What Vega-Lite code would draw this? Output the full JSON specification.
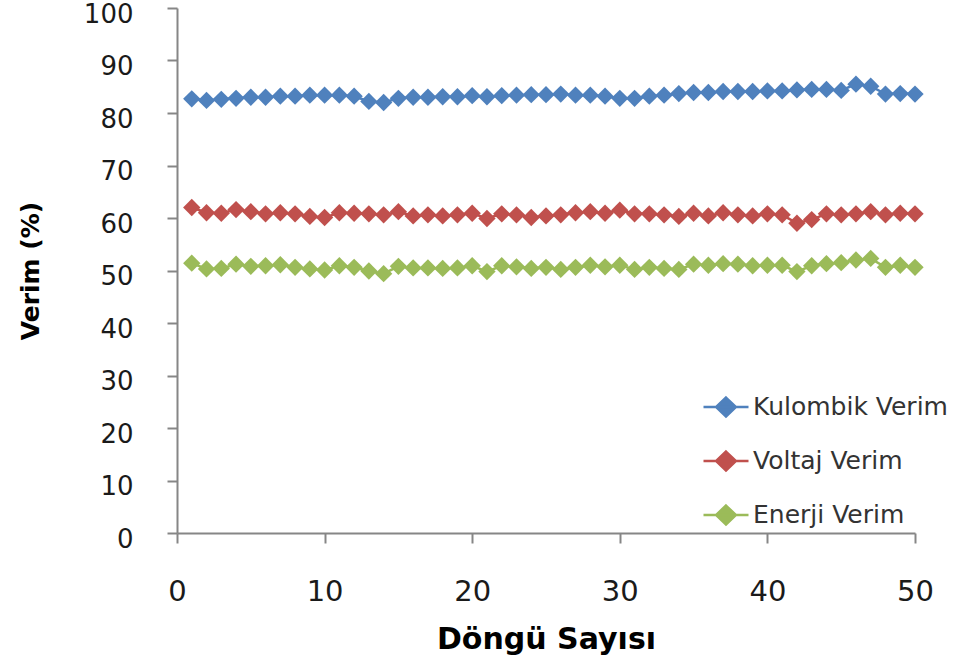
{
  "$schema": "https://vega.github.io/schema/vega-lite/v6.json",
  "width": 738,
  "height": 525,
  "autosize": "none",
  "padding": {"left": 177, "top": 8, "right": 56, "bottom": 132},
  "background": "white",
  "config": {"view": {"stroke": null}},
  "data": {"values": [
    {"c":1,"s":"Kulombik Verim","v":82.7},{"c":2,"s":"Kulombik Verim","v":82.4},{"c":3,"s":"Kulombik Verim","v":82.6},{"c":4,"s":"Kulombik Verim","v":82.8},{"c":5,"s":"Kulombik Verim","v":83.0},{"c":6,"s":"Kulombik Verim","v":83.0},{"c":7,"s":"Kulombik Verim","v":83.2},{"c":8,"s":"Kulombik Verim","v":83.2},{"c":9,"s":"Kulombik Verim","v":83.4},{"c":10,"s":"Kulombik Verim","v":83.4},
    {"c":11,"s":"Kulombik Verim","v":83.4},{"c":12,"s":"Kulombik Verim","v":83.2},{"c":13,"s":"Kulombik Verim","v":82.2},{"c":14,"s":"Kulombik Verim","v":82.0},{"c":15,"s":"Kulombik Verim","v":82.8},{"c":16,"s":"Kulombik Verim","v":83.0},{"c":17,"s":"Kulombik Verim","v":83.0},{"c":18,"s":"Kulombik Verim","v":83.1},{"c":19,"s":"Kulombik Verim","v":83.1},{"c":20,"s":"Kulombik Verim","v":83.3},
    {"c":21,"s":"Kulombik Verim","v":83.1},{"c":22,"s":"Kulombik Verim","v":83.3},{"c":23,"s":"Kulombik Verim","v":83.4},{"c":24,"s":"Kulombik Verim","v":83.5},{"c":25,"s":"Kulombik Verim","v":83.5},{"c":26,"s":"Kulombik Verim","v":83.6},{"c":27,"s":"Kulombik Verim","v":83.4},{"c":28,"s":"Kulombik Verim","v":83.4},{"c":29,"s":"Kulombik Verim","v":83.2},{"c":30,"s":"Kulombik Verim","v":82.8},
    {"c":31,"s":"Kulombik Verim","v":82.8},{"c":32,"s":"Kulombik Verim","v":83.2},{"c":33,"s":"Kulombik Verim","v":83.4},{"c":34,"s":"Kulombik Verim","v":83.7},{"c":35,"s":"Kulombik Verim","v":83.9},{"c":36,"s":"Kulombik Verim","v":83.9},{"c":37,"s":"Kulombik Verim","v":84.1},{"c":38,"s":"Kulombik Verim","v":84.1},{"c":39,"s":"Kulombik Verim","v":84.1},{"c":40,"s":"Kulombik Verim","v":84.2},
    {"c":41,"s":"Kulombik Verim","v":84.2},{"c":42,"s":"Kulombik Verim","v":84.4},{"c":43,"s":"Kulombik Verim","v":84.5},{"c":44,"s":"Kulombik Verim","v":84.5},{"c":45,"s":"Kulombik Verim","v":84.3},{"c":46,"s":"Kulombik Verim","v":85.5},{"c":47,"s":"Kulombik Verim","v":85.1},{"c":48,"s":"Kulombik Verim","v":83.6},{"c":49,"s":"Kulombik Verim","v":83.7},{"c":50,"s":"Kulombik Verim","v":83.6},
    {"c":1,"s":"Voltaj Verim","v":62.0},{"c":2,"s":"Voltaj Verim","v":61.0},{"c":3,"s":"Voltaj Verim","v":60.9},{"c":4,"s":"Voltaj Verim","v":61.6},{"c":5,"s":"Voltaj Verim","v":61.2},{"c":6,"s":"Voltaj Verim","v":60.8},{"c":7,"s":"Voltaj Verim","v":61.0},{"c":8,"s":"Voltaj Verim","v":60.8},{"c":9,"s":"Voltaj Verim","v":60.3},{"c":10,"s":"Voltaj Verim","v":60.1},
    {"c":11,"s":"Voltaj Verim","v":61.0},{"c":12,"s":"Voltaj Verim","v":60.9},{"c":13,"s":"Voltaj Verim","v":60.8},{"c":14,"s":"Voltaj Verim","v":60.6},{"c":15,"s":"Voltaj Verim","v":61.2},{"c":16,"s":"Voltaj Verim","v":60.4},{"c":17,"s":"Voltaj Verim","v":60.6},{"c":18,"s":"Voltaj Verim","v":60.4},{"c":19,"s":"Voltaj Verim","v":60.6},{"c":20,"s":"Voltaj Verim","v":60.9},
    {"c":21,"s":"Voltaj Verim","v":59.9},{"c":22,"s":"Voltaj Verim","v":60.8},{"c":23,"s":"Voltaj Verim","v":60.6},{"c":24,"s":"Voltaj Verim","v":60.1},{"c":25,"s":"Voltaj Verim","v":60.4},{"c":26,"s":"Voltaj Verim","v":60.6},{"c":27,"s":"Voltaj Verim","v":61.0},{"c":28,"s":"Voltaj Verim","v":61.2},{"c":29,"s":"Voltaj Verim","v":60.9},{"c":30,"s":"Voltaj Verim","v":61.5},
    {"c":31,"s":"Voltaj Verim","v":60.8},{"c":32,"s":"Voltaj Verim","v":60.8},{"c":33,"s":"Voltaj Verim","v":60.6},{"c":34,"s":"Voltaj Verim","v":60.3},{"c":35,"s":"Voltaj Verim","v":60.9},{"c":36,"s":"Voltaj Verim","v":60.4},{"c":37,"s":"Voltaj Verim","v":61.0},{"c":38,"s":"Voltaj Verim","v":60.6},{"c":39,"s":"Voltaj Verim","v":60.4},{"c":40,"s":"Voltaj Verim","v":60.8},
    {"c":41,"s":"Voltaj Verim","v":60.6},{"c":42,"s":"Voltaj Verim","v":59.0},{"c":43,"s":"Voltaj Verim","v":59.7},{"c":44,"s":"Voltaj Verim","v":60.8},{"c":45,"s":"Voltaj Verim","v":60.6},{"c":46,"s":"Voltaj Verim","v":60.8},{"c":47,"s":"Voltaj Verim","v":61.2},{"c":48,"s":"Voltaj Verim","v":60.6},{"c":49,"s":"Voltaj Verim","v":60.9},{"c":50,"s":"Voltaj Verim","v":60.8},
    {"c":1,"s":"Enerji Verim","v":51.4},{"c":2,"s":"Enerji Verim","v":50.3},{"c":3,"s":"Enerji Verim","v":50.4},{"c":4,"s":"Enerji Verim","v":51.2},{"c":5,"s":"Enerji Verim","v":50.8},{"c":6,"s":"Enerji Verim","v":50.9},{"c":7,"s":"Enerji Verim","v":51.1},{"c":8,"s":"Enerji Verim","v":50.6},{"c":9,"s":"Enerji Verim","v":50.3},{"c":10,"s":"Enerji Verim","v":50.1},
    {"c":11,"s":"Enerji Verim","v":50.9},{"c":12,"s":"Enerji Verim","v":50.6},{"c":13,"s":"Enerji Verim","v":49.9},{"c":14,"s":"Enerji Verim","v":49.4},{"c":15,"s":"Enerji Verim","v":50.8},{"c":16,"s":"Enerji Verim","v":50.5},{"c":17,"s":"Enerji Verim","v":50.5},{"c":18,"s":"Enerji Verim","v":50.4},{"c":19,"s":"Enerji Verim","v":50.5},{"c":20,"s":"Enerji Verim","v":50.9},
    {"c":21,"s":"Enerji Verim","v":49.8},{"c":22,"s":"Enerji Verim","v":50.9},{"c":23,"s":"Enerji Verim","v":50.7},{"c":24,"s":"Enerji Verim","v":50.4},{"c":25,"s":"Enerji Verim","v":50.6},{"c":26,"s":"Enerji Verim","v":50.2},{"c":27,"s":"Enerji Verim","v":50.6},{"c":28,"s":"Enerji Verim","v":51.0},{"c":29,"s":"Enerji Verim","v":50.7},{"c":30,"s":"Enerji Verim","v":51.0},
    {"c":31,"s":"Enerji Verim","v":50.2},{"c":32,"s":"Enerji Verim","v":50.6},{"c":33,"s":"Enerji Verim","v":50.4},{"c":34,"s":"Enerji Verim","v":50.2},{"c":35,"s":"Enerji Verim","v":51.2},{"c":36,"s":"Enerji Verim","v":51.0},{"c":37,"s":"Enerji Verim","v":51.3},{"c":38,"s":"Enerji Verim","v":51.2},{"c":39,"s":"Enerji Verim","v":50.9},{"c":40,"s":"Enerji Verim","v":51.0},
    {"c":41,"s":"Enerji Verim","v":51.0},{"c":42,"s":"Enerji Verim","v":49.8},{"c":43,"s":"Enerji Verim","v":50.9},{"c":44,"s":"Enerji Verim","v":51.3},{"c":45,"s":"Enerji Verim","v":51.5},{"c":46,"s":"Enerji Verim","v":52.0},{"c":47,"s":"Enerji Verim","v":52.3},{"c":48,"s":"Enerji Verim","v":50.6},{"c":49,"s":"Enerji Verim","v":51.0},{"c":50,"s":"Enerji Verim","v":50.6}
  ]},
  "encoding": {
    "x": {
      "field": "c", "type": "quantitative",
      "scale": {"domain": [0, 50], "nice": false, "zero": false},
      "axis": {
        "title": "Döngü Sayısı", "values": [0, 10, 20, 30, 40, 50], "grid": false,
        "domainColor": "#868686", "domainWidth": 2, "tickColor": "#868686", "tickWidth": 2, "tickSize": 10,
        "labelFont": "DejaVu Sans", "labelFontSize": 29, "labelColor": "#1a1a1a", "labelPadding": 34,
        "labelFlush": false,
        "titleFont": "DejaVu Sans", "titleFontSize": 30, "titleFontWeight": "bold", "titleColor": "#000000", "titlePadding": 18
      }
    },
    "y": {
      "field": "v", "type": "quantitative",
      "scale": {"domain": [0, 100], "nice": false},
      "axis": {
        "title": "Verim (%)", "values": [0, 10, 20, 30, 40, 50, 60, 70, 80, 90, 100], "grid": false,
        "domainColor": "#868686", "domainWidth": 2, "tickColor": "#868686", "tickWidth": 2, "tickSize": 10,
        "labelFont": "DejaVu Sans", "labelFontSize": 26, "labelColor": "#1a1a1a", "labelPadding": 34,
        "labelFlush": false, "labelOffset": 6, "labelBaseline": "middle",
        "titleFont": "DejaVu Sans", "titleFontSize": 25, "titleFontWeight": "bold", "titleColor": "#000000", "titlePadding": 40
      }
    },
    "color": {
      "field": "s", "type": "nominal",
      "scale": {"domain": ["Kulombik Verim", "Voltaj Verim", "Enerji Verim"], "range": ["#4F81BD", "#C0504D", "#9BBB59"]},
      "legend": {
        "title": null, "orient": "none", "legendX": 525, "legendY": 375, "padding": 0,
        "symbolType": "M-1,0L1,0M0,-0.42L0.44,0L0,0.42L-0.44,0Z",
        "symbolSize": 2025, "symbolStrokeWidth": 2.5, "symbolOffset": 0,
        "labelFont": "DejaVu Sans", "labelFontSize": 25, "labelColor": "#333333", "labelOffset": 3, "labelLimit": 400,
        "rowPadding": 15,
        "encode": {"symbols": {"update": {"stroke": {"scale": "color", "field": "value"}, "fill": {"scale": "color", "field": "value"}, "opacity": {"value": 1}}}}
      }
    }
  },
  "layer": [
    {
      "mark": {"type": "line", "strokeWidth": 2.5},
      "encoding": {"detail": {"field": "s"}}
    },
    {
      "mark": {"type": "point", "shape": "diamond", "filled": true, "size": 300, "opacity": 1}
    }
  ]
}
